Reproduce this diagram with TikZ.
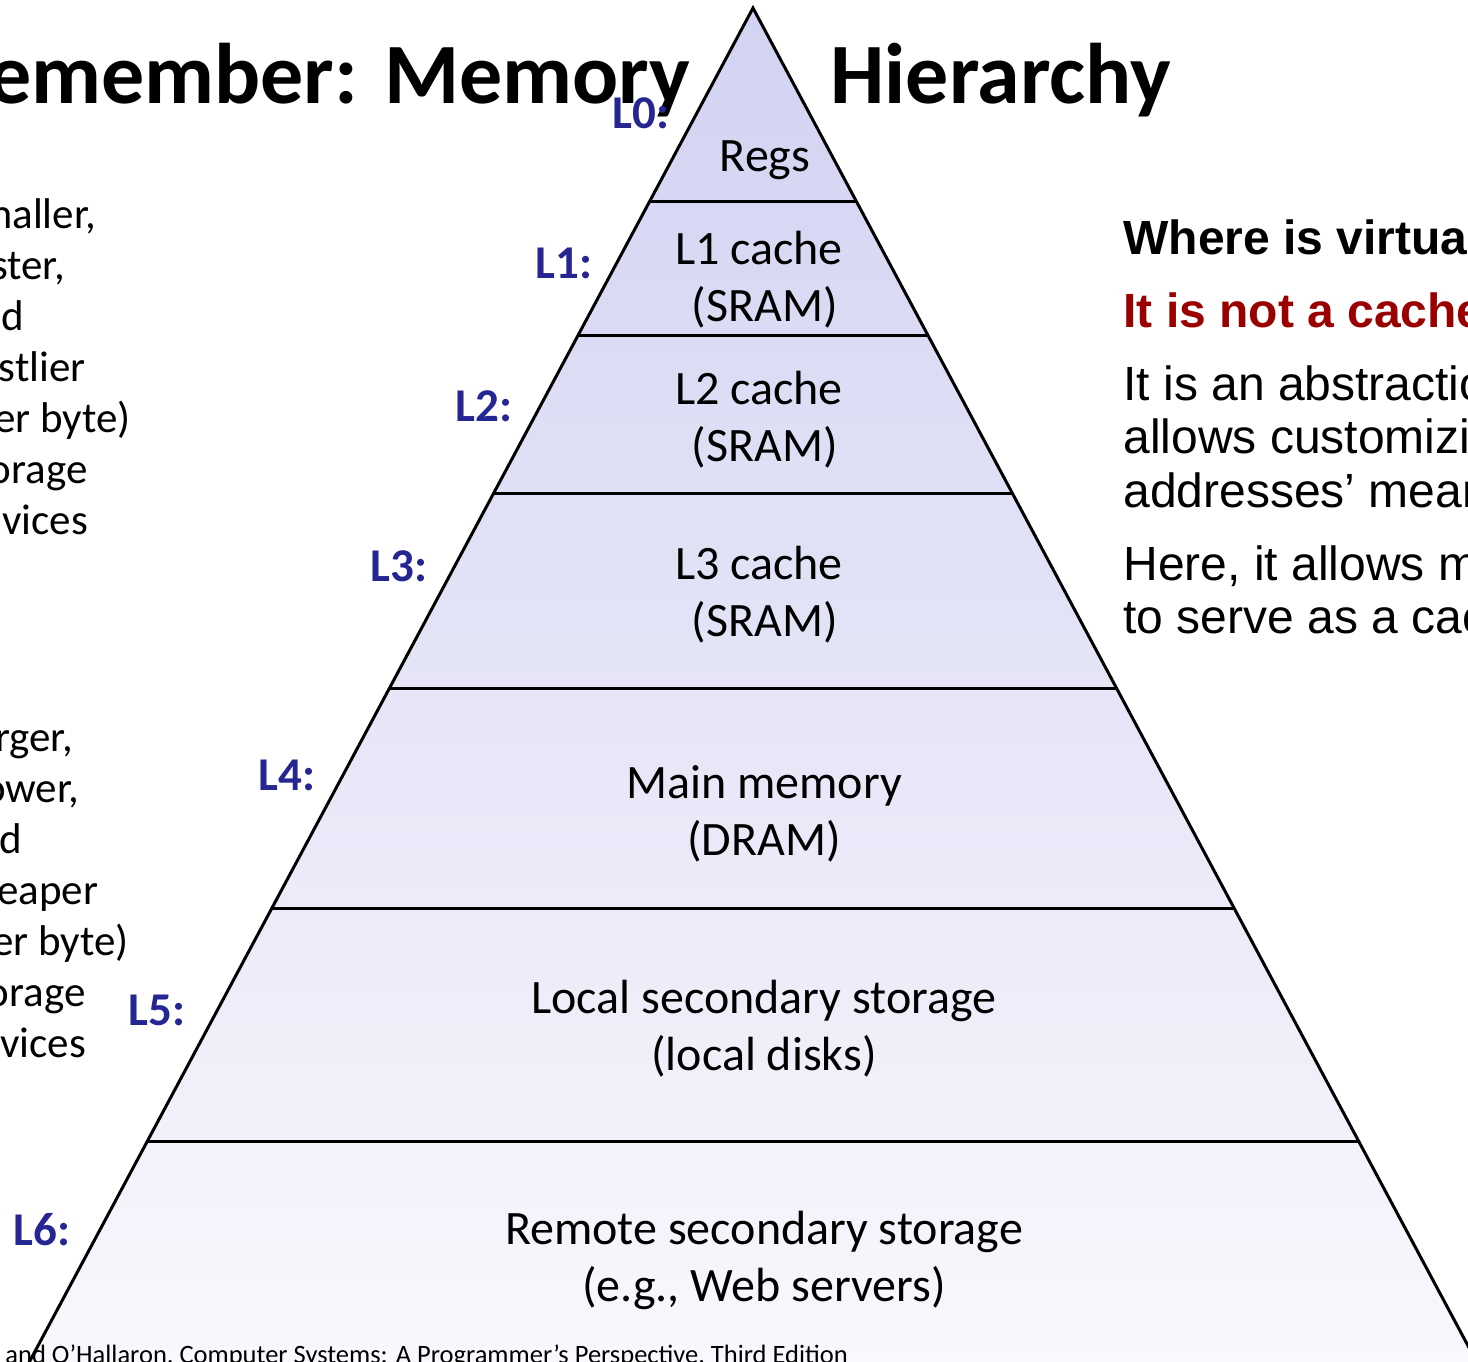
\documentclass[tikz,border=0pt]{standalone}
\usepackage{fontspec}
\setmainfont{Carlito}
\newfontfamily\rfont{Liberation Sans}
\definecolor{lblue}{RGB}{38,38,147}
\definecolor{dred}{RGB}{155,0,0}
\definecolor{ptop}{RGB}{210,210,242}
\definecolor{pbot}{RGB}{249,249,253}
\tikzset{
  pyr/.style={font=\fontsize{24}{28}\selectfont, anchor=base, inner sep=0pt},
  lvl/.style={font=\fontsize{23.5}{27}\selectfont\bfseries, text=lblue, anchor=base west, inner sep=0pt},
  sidetxt/.style={font=\fontsize{21.5}{25}\selectfont, anchor=base west, inner sep=0pt},
  rbold/.style={font=\rfont\fontsize{24}{28}\selectfont\bfseries, anchor=base west, inner sep=0pt},
  rreg/.style={font=\rfont\fontsize{24}{28}\selectfont, anchor=base west, inner sep=0pt},
  ttl/.style={font=\fontsize{43}{48}\selectfont\bfseries, inner sep=0pt},
  edge/.style={line width=1.5pt, draw=black}
}
\begin{document}
\begin{tikzpicture}[x=0.5pt, y=-0.5pt]
\useasboundingbox (0,0) rectangle (1468,1361);
\clip (0,0) rectangle (1468,1361);
\fill[white] (0,0) rectangle (1468,1361);
% title
\node[ttl, anchor=base east] (t1) at (691,103) {Remember: Memory};
\node[ttl, anchor=base west] (t2) at (830,103) {Hierarchy};
% pyramid
\shade[top color=ptop, bottom color=pbot] (753,8) -- (9,1400) -- (1497,1400) -- cycle;
\draw[edge, line join=miter] (9,1400) -- (753,8) -- (1497,1400);
\foreach \y in {201,335,493,688,908,1141}
  \draw[edge] ({753-0.5348*(\y-8)},\y) -- ({753+0.5348*(\y-8)},\y);
% pyramid texts
\node[pyr] (r0) at (765,171) {Regs};
\node[pyr] (r1a) at (759,264) {L1 cache};
\node[pyr] (r1b) at (765,321) {(SRAM)};
\node[pyr] (r2a) at (759,404) {L2 cache};
\node[pyr] (r2b) at (765,461) {(SRAM)};
\node[pyr] (r3a) at (759,579) {L3 cache};
\node[pyr] (r3b) at (765,636) {(SRAM)};
\node[pyr] (r4a) at (764,798) {Main memory};
\node[pyr] (r4b) at (764,855) {(DRAM)};
\node[pyr] (r5a) at (764,1013) {Local secondary storage};
\node[pyr] (r5b) at (764,1070) {(local disks)};
\node[pyr] (r6a) at (764,1244) {Remote secondary storage};
\node[pyr] (r6b) at (764,1301) {(e.g., Web servers)};
% level labels
\node[lvl] (l0) at (612,128) {L0:};
\node[lvl] (l1) at (535,278) {L1:};
\node[lvl] (l2) at (455,421) {L2:};
\node[lvl] (l3) at (370,581) {L3:};
\node[lvl] (l4) at (258,790) {L4:};
\node[lvl] (l5) at (128,1025) {L5:};
\node[lvl] (l6) at (13,1245) {L6:};
% left side texts
\foreach \t [count=\i] in {{Smaller,},{faster,},{and},{costlier},{(per byte)},{storage},{devices}}
  \node[sidetxt] (sa\i) at (-42,{228+51*(\i-1)}) {\t};
\foreach \t [count=\i] in {{Larger,},{slower,},{and},{cheaper},{(per byte)},{storage},{devices}}
  \node[sidetxt] (sb\i) at (-44,{751+51*(\i-1)}) {\t};
% right side texts
\node[rbold] (q1) at (1123,254) {Where is virtual};
\node[rbold, text=dred] (q2) at (1123,327) {It is not a cache};
\node[rreg] (q3) at (1123,400) {It is an abstraction};
\node[rreg] (q4) at (1123,453) {allows customizing};
\node[rreg] (q5) at (1123,507) {addresses’ meaning};
\node[rreg] (q6) at (1123,580) {Here, it allows memory};
\node[rreg] (q7) at (1123,633) {to serve as a cache};
% footer
\node[font=\fontsize{13.25}{15}\selectfont, anchor=base west, inner sep=0pt] (ft) at (5,1363) {and O’Hallaron, Computer Systems: A Programmer’s Perspective, Third Edition};
\end{tikzpicture}
\end{document}
